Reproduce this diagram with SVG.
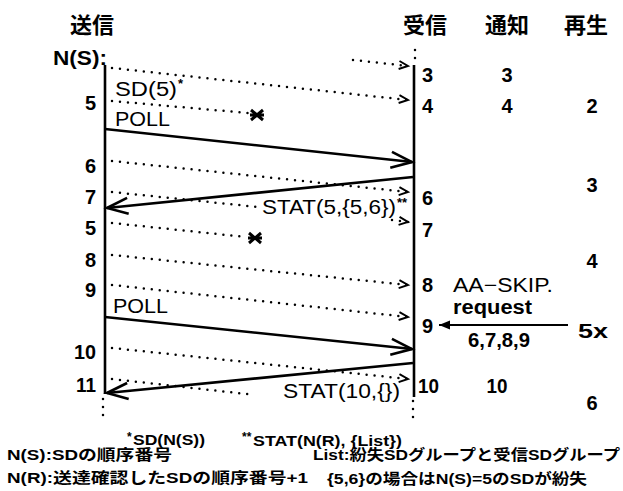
<svg xmlns="http://www.w3.org/2000/svg" width="623" height="491" viewBox="0 0 623 491">
<style>
text{font-family:"Liberation Sans","Noto Sans CJK JP",sans-serif;fill:#000}
.h{font-family:"Noto Sans CJK JP",sans-serif;font-weight:bold;font-size:22px}
.n{font-weight:bold;font-size:20px}
.m{font-size:20px}
.f{font-weight:bold;font-size:15px}
.dot{stroke:#000;stroke-width:2.5;stroke-dasharray:0 8;stroke-linecap:round;fill:none}
.sol{stroke:#000;stroke-width:2.6;fill:none}
.life{stroke:#000;stroke-width:2.6}
</style>
<defs>
<marker id="da" markerUnits="userSpaceOnUse" markerWidth="20" markerHeight="20" orient="auto" overflow="visible">
<path d="M-9,-4 L0,0 L-9,4" fill="none" stroke="#000" stroke-width="1.9"/>
</marker>
<marker id="sa" markerUnits="userSpaceOnUse" markerWidth="30" markerHeight="30" orient="auto" overflow="visible">
<path d="M-21,-8 L0,0 L-21,8" fill="none" stroke="#000" stroke-width="2.6"/>
</marker>
<marker id="fa" markerUnits="userSpaceOnUse" markerWidth="20" markerHeight="20" orient="auto" overflow="visible">
<path d="M-11,-4.5 L0,0 L-11,4.5 Z" fill="#000"/>
</marker>
<g id="xmark"><path d="M-6,-5 L6,5 M-6,5 L6,-5 M-7,0 L7,0" stroke="#000" stroke-width="3"/></g>
</defs>

<g id="headers">
<text class="h" x="70" y="33">送信</text>
<text class="h" x="403" y="33">受信</text>
<text class="h" x="485" y="33">通知</text>
<text class="h" x="564" y="33">再生</text>
</g>

<g id="sender">
<text class="n" x="53" y="65" textLength="54" lengthAdjust="spacingAndGlyphs">N(S):</text>
<line class="life" x1="105" y1="65" x2="105" y2="394"/>
<path class="dot" d="M103,399 L103,418"/>
<text class="n" x="96" y="110" text-anchor="end">5</text>
<text class="n" x="96" y="173" text-anchor="end">6</text>
<text class="n" x="96" y="204" text-anchor="end">7</text>
<text class="n" x="96" y="235" text-anchor="end">5</text>
<text class="n" x="96" y="267" text-anchor="end">8</text>
<text class="n" x="96" y="297" text-anchor="end">9</text>
<text class="n" x="96" y="359" text-anchor="end" textLength="22" lengthAdjust="spacingAndGlyphs">10</text>
<text class="n" x="96" y="392" text-anchor="end" textLength="20" lengthAdjust="spacingAndGlyphs">11</text>
</g>

<g id="receiver">
<path class="dot" d="M415,50 L415,60"/>
<line class="life" x1="414" y1="65" x2="414" y2="397"/>
<path class="dot" d="M413,401 L413,418"/>
<text class="n" x="422" y="82">3</text>
<text class="n" x="422" y="113">4</text>
<text class="n" x="422" y="205">6</text>
<text class="n" x="422" y="237">7</text>
<text class="n" x="422" y="292">8</text>
<text class="n" x="422" y="333">9</text>
<text class="n" x="418" y="393" textLength="21" lengthAdjust="spacingAndGlyphs">10</text>
</g>

<g id="notify">
<text class="n" x="507" y="82" text-anchor="middle">3</text>
<text class="n" x="507" y="113" text-anchor="middle">4</text>
<text class="n" x="497" y="393" text-anchor="middle" textLength="21" lengthAdjust="spacingAndGlyphs">10</text>
</g>

<g id="playback">
<text class="n" x="592" y="113" text-anchor="middle">2</text>
<text class="n" x="592" y="192" text-anchor="middle">3</text>
<text class="n" x="592" y="268" text-anchor="middle">4</text>
<text class="n" x="578" y="338" textLength="30" lengthAdjust="spacingAndGlyphs">5x</text>
<text class="n" x="592" y="410" text-anchor="middle">6</text>
</g>

<g id="aaskip">
<text class="m" x="453" y="292" textLength="100" lengthAdjust="spacingAndGlyphs">AA−SKIP.</text>
<text class="m" x="453" y="314" font-weight="bold" textLength="79" lengthAdjust="spacingAndGlyphs">request</text>
<text class="n" x="499" y="347" text-anchor="middle" font-size="18" textLength="62" lengthAdjust="spacingAndGlyphs">6,7,8,9</text>
</g>

<g id="connectors">
<path class="dot" d="M353,60 L408,66" marker-end="url(#da)"/>
<path class="dot" d="M112,68 L408,100" marker-end="url(#da)"/>
<path class="dot" d="M112,101 L248,113"/>
<use href="#xmark" x="257" y="115"/>
<path class="sol" d="M105,129 L412,162" marker-end="url(#sa)"/>
<path class="dot" d="M112,161 L408,192" marker-end="url(#da)"/>
<path class="sol" d="M413,177 L107,208" marker-end="url(#sa)"/>
<path class="dot" d="M112,192 L258,207"/>
<path class="dot" d="M392,220 L408,222" marker-end="url(#da)"/>
<path class="dot" d="M112,223 L246,237"/>
<use href="#xmark" x="255" y="238"/>
<path class="dot" d="M112,255 L408,285" marker-end="url(#da)"/>
<path class="dot" d="M112,285 L408,317" marker-end="url(#da)"/>
<path class="sol" d="M105,317 L412,349" marker-end="url(#sa)"/>
<path class="dot" d="M112,348 L408,379" marker-end="url(#da)"/>
<path class="sol" d="M413,363 L107,393" marker-end="url(#sa)"/>
<path class="dot" d="M112,379 L255,395"/>
<path d="M568,325 L439,325" stroke="#000" stroke-width="2" marker-end="url(#fa)"/>
</g>

<g id="labels">
<text class="m" x="115" y="96" textLength="62" lengthAdjust="spacingAndGlyphs">SD(5)</text>
<text x="178" y="88" font-size="13" font-weight="bold">*</text>
<text class="m" x="115" y="126" textLength="55" lengthAdjust="spacingAndGlyphs">POLL</text>
<text class="m" x="262" y="214" font-size="21" textLength="134" lengthAdjust="spacingAndGlyphs">STAT(5,{5,6})</text>
<text x="397" y="207" font-size="13" font-weight="bold">**</text>
<text class="m" x="113" y="313" textLength="55" lengthAdjust="spacingAndGlyphs">POLL</text>
<text class="m" x="283" y="398" font-size="22" textLength="117" lengthAdjust="spacingAndGlyphs">STAT(10,{})</text>
</g>

<g id="legend">
<text x="127" y="441" font-size="12" font-weight="bold">*</text>
<text class="f" x="133" y="445" font-size="16" textLength="72" lengthAdjust="spacingAndGlyphs">SD(N(S))</text>
<text x="242" y="441" font-size="12" font-weight="bold">**</text>
<text class="f" x="253" y="446" font-size="16" textLength="149" lengthAdjust="spacingAndGlyphs">STAT(N(R), {List})</text>
<text class="f" x="7" y="460" textLength="165" lengthAdjust="spacingAndGlyphs">N(S):SDの順序番号</text>
<text class="f" x="7" y="483" textLength="301" lengthAdjust="spacingAndGlyphs">N(R):送達確認したSDの順序番号+1</text>
<text class="f" x="313" y="460" textLength="307" lengthAdjust="spacingAndGlyphs">List:紛失SDグループと受信SDグループ</text>
<text class="f" x="327" y="484" textLength="260" lengthAdjust="spacingAndGlyphs">{5,6}の場合はN(S)=5のSDが紛失</text>
</g>
</svg>
